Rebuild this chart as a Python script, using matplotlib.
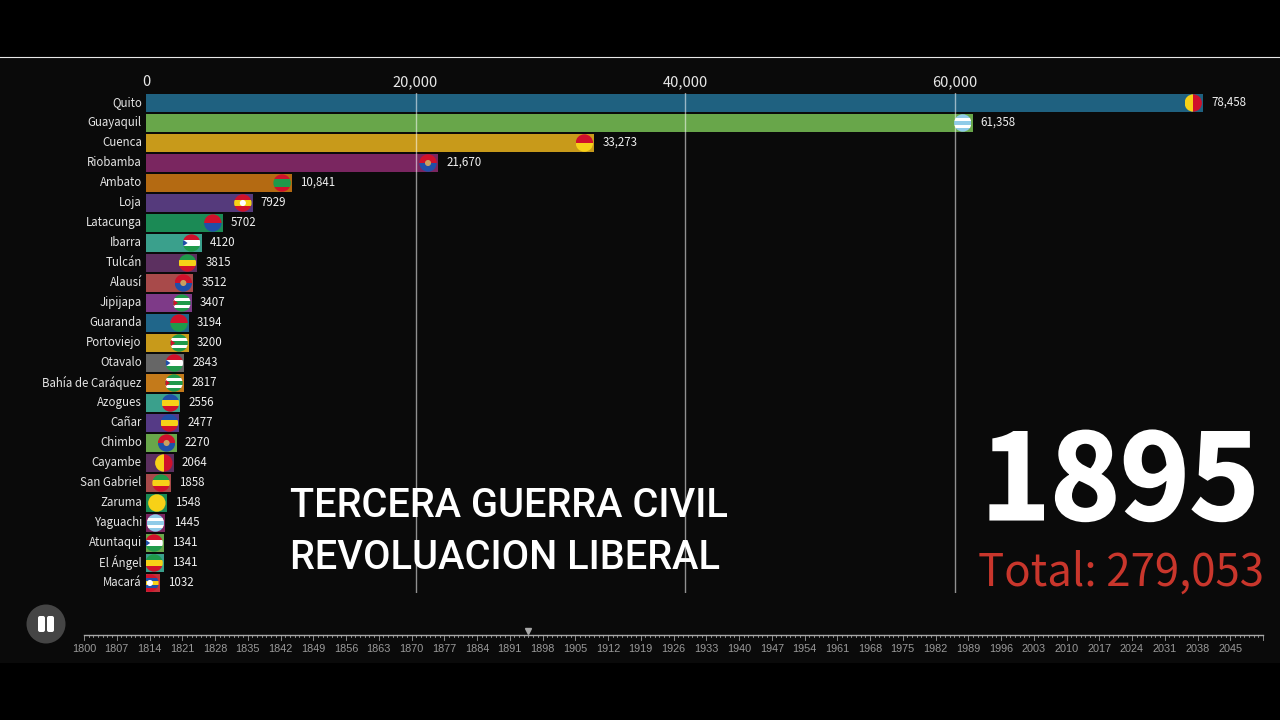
import matplotlib
matplotlib.use("Agg")
import matplotlib.pyplot as plt
import matplotlib.patheffects as pe
from matplotlib.patches import Circle, Rectangle, Polygon, FancyBboxPatch
from matplotlib.transforms import ScaledTranslation

cities = ["Quito","Guayaquil","Cuenca","Riobamba","Ambato","Loja","Latacunga","Ibarra","Tulcán","Alausí",
          "Jipijapa","Guaranda","Portoviejo","Otavalo","Bahía de Caráquez","Azogues","Cañar","Chimbo",
          "Cayambe","San Gabriel","Zaruma","Yaguachi","Atuntaqui","El Ángel","Macará"]
values = [78458,61358,33273,21670,10841,7929,5702,4120,3815,3512,3407,3194,3200,2843,2817,2556,2477,2270,
          2064,1858,1548,1445,1341,1341,1032]
labels = ["78,458","61,358","33,273","21,670","10,841","7929","5702","4120","3815","3512","3407","3194","3200",
          "2843","2817","2556","2477","2270","2064","1858","1548","1445","1341","1341","1032"]
colors = ["#1f6180","#68a64a","#c89a1a","#7a2660","#b46a12","#553a7c","#1b8a55","#3aa08c","#5c3060","#a84a4a",
          "#7e3a88","#20668a","#c89a1a","#666666","#c47a1a","#3aa08c","#553a86","#68a64a","#5c3060","#a84a4a",
          "#1b8a55","#7a2660","#68a64a","#3aa08c","#c0303a"]

R, Y, G, B, W, L = "#d0112b", "#f7d117", "#1f9a4a", "#1f4fa8", "#ffffff", "#8fcbe8"
# flag: (direction, stripe colours, triangle colour, emblem colour)
flags = [("v",[Y,R],None,None),("h",[L,W,L,W,L],None,None),("h",[R,Y],None,None),("h",[R,B],None,"#c8a060"),
         ("h",[R,G,G,R],None,None),("h",[R,Y,R],None,W),("h",[R,B],None,None),("h",[R,W,G],B,None),
         ("h",[G,Y,R],None,None),("h",[R,B],None,"#c8a060"),("h",[G,W,G,W,G],R,None),("h",[R,G],None,None),
         ("h",[G,W,G,W,G],R,None),("h",[R,W,G],B,None),("h",[G,W,G,W,G],R,None),("h",[B,Y,R],None,None),
         ("h",[B,Y,R],None,None),("h",[R,B],None,"#c8a060"),("v",[Y,R],None,None),("h",[G,Y,R],None,None),
         ("o",[G,Y],None,None),("h",[L,W,L,W,L],None,None),("h",[R,W,G],B,None),("h",[G,Y,R],None,None),
         ("h",[R,B,Y,B,R],None,W)]

xticks = [0,20000,40000,60000]
xticklabels = ["0","20,000","40,000","60,000"]
year_major = list(range(1800,2053,7))
year_labels = [str(y) for y in year_major if y <= 2045]
current_year = 1895
title_lines = ["TERCERA GUERRA CIVIL","REVOLUACION LIBERAL"]
total_text = "Total: 279,053"

SANS = ["Noto Sans CJK SC","DejaVu Sans"]
W_PX, H_PX = 1280, 720
fig = plt.figure(figsize=(12.8,7.2), dpi=100, facecolor="#000000")

def axes_px(l,t,r,b,**kw):
    return fig.add_axes([l/W_PX,1-b/H_PX,(r-l)/W_PX,(b-t)/H_PX],**kw)

# page band
bg = axes_px(0,0,W_PX,H_PX); bg.set_xlim(0,W_PX); bg.set_ylim(H_PX,0); bg.axis("off")
bg.add_patch(Rectangle((0,57),W_PX,606,fc="#0a0a0a",ec="none"))
bg.plot([0,W_PX],[57,57],color="#e8e8e8",lw=0.8)

# main chart: x 0 at 146 px, 13.475 px per 1000; rows 20 px apart
ax = axes_px(146,93,1280,593)
ax.set_facecolor("none")
ax.set_xlim(0,(1280-146)/0.013475)
ax.set_ylim(24.5,-0.5)
for s in ax.spines.values(): s.set_visible(False)
ypos = list(range(len(cities)))
ax.barh(ypos,values,height=0.94,color=colors,zorder=2)
ax.set_yticks(ypos,cities,fontsize=8.3,color="#e4e4e4",family=SANS)
ax.set_xticks(xticks,xticklabels,fontsize=10.5,color="#e8e8e8",family=SANS)
ax.xaxis.tick_top()
ax.tick_params(length=0,pad=3)
ax.tick_params(axis="x",pad=3)
for lab in ax.get_yticklabels():
    lab.set_transform(lab.get_transform()+ScaledTranslation(0,1.2/72,fig.dpi_scale_trans))
for v in xticks[1:]:
    ax.axvline(v,color="#ffffff",alpha=0.55,lw=1,zorder=3)
for y,v,t in zip(ypos,values,labels):
    ax.annotate(t,(v,y),xytext=(5.8,0.3),textcoords="offset points",ha="left",va="center",
                fontsize=8.3,color="#f0f0f0",family=SANS,zorder=5)

# flags live in a pixel overlay starting at the bar baseline, placed from the bar data
ov = axes_px(146,0,W_PX,H_PX); ov.set_xlim(146,W_PX); ov.set_ylim(H_PX,0); ov.axis("off"); ov.patch.set_alpha(0)
fig.canvas.draw()
r = 8.7
for y,v,(d,st,tri,emb) in zip(ypos,values,flags):
    px,py = ax.transData.transform((v,y))
    cx, cy = px-10, H_PX-py
    clip = Circle((cx,cy),r,transform=ov.transData,fc="none",ec="none")
    ov.add_patch(clip)
    arts = []
    if d=="o":
        arts.append(ov.add_patch(Rectangle((cx-r,cy-r),2*r,2*r,fc=st[1],ec="none")))
    else:
        n = len(st)
        for i,c in enumerate(st):
            if d=="h":
                arts.append(ov.add_patch(Rectangle((cx-r,cy-r+2*r*i/n),2*r,2*r/n,fc=c,ec="none")))
            else:
                arts.append(ov.add_patch(Rectangle((cx-r+2*r*i/n,cy-r),2*r/n,2*r,fc=c,ec="none")))
    if tri:
        arts.append(ov.add_patch(Polygon([(cx-r,cy-r*0.4),(cx-r,cy+r*0.4),(cx-r*0.45,cy)],fc=tri,ec="none")))
    if emb:
        arts.append(ov.add_patch(Circle((cx,cy),r*0.35,fc=emb,ec="none")))
    for a in arts: a.set_clip_path(clip)

# titles and counters
for line,yy in zip(title_lines,[506,558]):
    bg.text(290,yy,line,fontsize=28.6,color="#ffffff",family="Roboto",weight="medium",ha="left",va="center",zorder=6)
t = bg.text(1120,485,str(current_year),fontsize=85,color="#ffffff",family=SANS,weight="bold",ha="center",va="center",zorder=6)
t.set_path_effects([pe.withStroke(linewidth=1.5,foreground="#ffffff",joinstyle="miter")])
bg.text(1121,573,total_text,fontsize=31.5,color="#c9362c",family=SANS,ha="center",va="center",zorder=6)

# pause button
bg.add_patch(Circle((46,624),19.5,fc="#454545",ec="none"))
for x0 in (39.5,48.5):
    bg.add_patch(FancyBboxPatch((x0,617.5),4,13,boxstyle="round,pad=1.5,rounding_size=2",fc="#ffffff",ec="none"))

# timeline
tl = axes_px(84,635,1263,650)
tl.set_facecolor("none")
tl.set_xlim(1800,2052); tl.set_ylim(0,1)
for s in ("left","right","bottom"): tl.spines[s].set_visible(False)
tl.spines["top"].set_color("#a8a8a8"); tl.spines["top"].set_linewidth(1)
tl.set_yticks([])
tl.set_xticks([])
for y in range(1800,2053):
    tl.plot([y,y],[1,0.88 if (y-1800)%7 else 0.68],color="#a0a0a0",lw=0.6,clip_on=False)
for y,t_ in zip(year_major,year_labels):
    tl.text(y,0.42,t_,fontsize=7.8,color="#9a9a9a",family="Liberation Sans",ha="center",va="top",clip_on=False)
tl.plot([current_year],[1.25],marker="v",ms=5,color="#a8a8a8",clip_on=False,ls="none")

fig.savefig("out.png",dpi=100,facecolor=fig.get_facecolor())
